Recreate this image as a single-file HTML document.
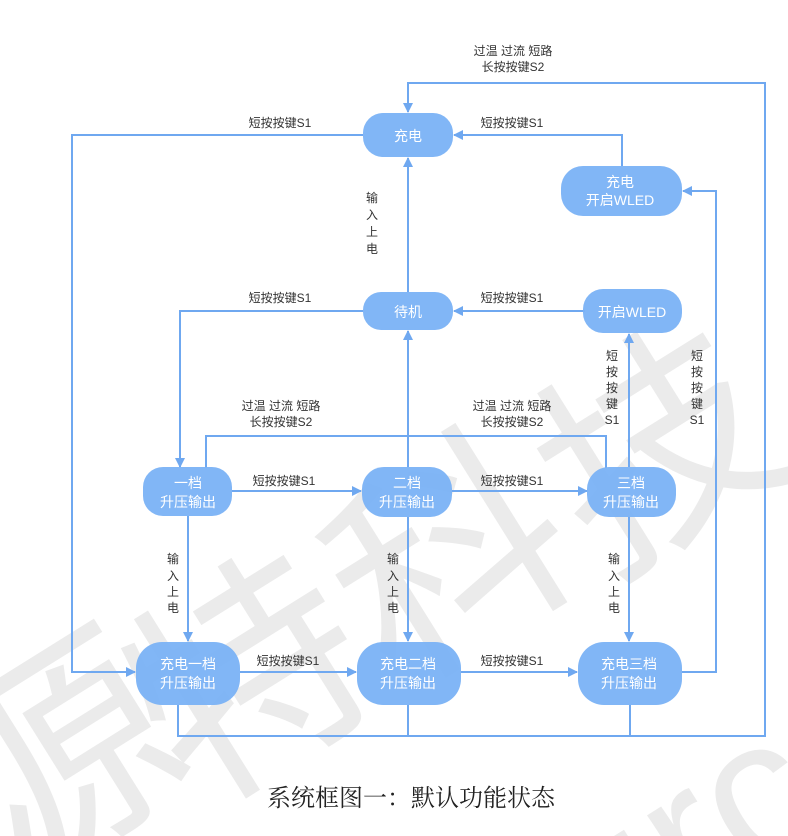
<!DOCTYPE html>
<html><head><meta charset="utf-8"><style>
html,body{margin:0;padding:0;background:#fff;}
body{width:788px;height:836px;overflow:hidden;position:relative;}
svg{position:absolute;left:0;top:0;overflow:hidden;}
.t{font-family:"Liberation Sans","Noto Sans CJK SC",sans-serif;font-size:12px;fill:#333;}
.n{font-family:"Liberation Sans","Noto Sans CJK SC",sans-serif;font-size:14px;fill:#fff;}
.wm{font-family:"Noto Sans CJK SC",sans-serif;fill:#ebebeb;}
</style></head><body>
<svg width="788" height="836" viewBox="0 0 788 836">
<defs>
<marker id="a" markerWidth="10" markerHeight="10" refX="9" refY="5" orient="auto" markerUnits="userSpaceOnUse"><path d="M0,0 L10,5 L0,10 Z" fill="#6fa8f0"/></marker>
</defs>
<g class="wm" font-size="230" text-anchor="middle">
<text x="60" y="840" transform="rotate(-32 60 760)">源</text>
<text x="250" y="760" transform="rotate(-32 250 680)">特</text>
<text x="450" y="640" transform="rotate(-32 450 560)">科</text>
<text x="660" y="530" transform="rotate(-32 660 450)">技</text>
<text x="720" y="880" font-family="Liberation Sans" font-size="200" transform="rotate(-32 720 800)">urce</text>
</g>
<g stroke="#6fa8f0" stroke-width="2" fill="none">
<polyline points="178,705 178,736 765,736 765,83 408,83 408,112" marker-end="url(#a)"/>
<line x1="408" y1="705" x2="408" y2="736"/>
<line x1="630" y1="705" x2="630" y2="736"/>
<polyline points="363,135 72,135 72,672 135,672" marker-end="url(#a)"/>
<polyline points="622,166 622,135 454,135" marker-end="url(#a)"/>
<line x1="408" y1="292" x2="408" y2="158" marker-end="url(#a)"/>
<line x1="585" y1="311" x2="454" y2="311" marker-end="url(#a)"/>
<polyline points="363,311 180,311 180,467" marker-end="url(#a)"/>
<line x1="408" y1="467" x2="408" y2="331" marker-end="url(#a)"/>
<polyline points="206,468 206,436 606,436 606,468"/>
<line x1="629" y1="467" x2="629" y2="334" marker-end="url(#a)"/>
<polyline points="682,672 716,672 716,191 683,191" marker-end="url(#a)"/>
<line x1="232" y1="491" x2="361" y2="491" marker-end="url(#a)"/>
<line x1="452" y1="491" x2="587" y2="491" marker-end="url(#a)"/>
<line x1="240" y1="672" x2="356" y2="672" marker-end="url(#a)"/>
<line x1="461" y1="672" x2="577" y2="672" marker-end="url(#a)"/>
<line x1="188" y1="516" x2="188" y2="641" marker-end="url(#a)"/>
<line x1="408" y1="517" x2="408" y2="641" marker-end="url(#a)"/>
<line x1="629" y1="517" x2="629" y2="641" marker-end="url(#a)"/>
</g>
<g fill="#7ab2f6" fill-opacity="0.95">
<rect x="363" y="113" width="90" height="44" rx="20"/>
<rect x="561" y="166" width="121" height="50" rx="22"/>
<rect x="363" y="292" width="90" height="38" rx="18"/>
<rect x="583" y="289" width="99" height="44" rx="20"/>
<rect x="143" y="467" width="89" height="49" rx="20"/>
<rect x="362" y="467" width="90" height="50" rx="22"/>
<rect x="587" y="467" width="89" height="50" rx="22"/>
<rect x="136" y="642" width="104" height="63" rx="26"/>
<rect x="357" y="642" width="104" height="63" rx="26"/>
<rect x="578" y="642" width="104" height="63" rx="26"/>
</g>
<g class="n" text-anchor="middle">
<text x="408" y="141">充电</text>
<text x="620" y="187">充电</text><text x="620" y="205">开启WLED</text>
<text x="408" y="317">待机</text>
<text x="632" y="317">开启WLED</text>
<text x="188" y="488">一档</text><text x="188" y="507">升压输出</text>
<text x="407" y="488">二档</text><text x="407" y="507">升压输出</text>
<text x="631" y="488">三档</text><text x="631" y="507">升压输出</text>
<text x="188" y="669">充电一档</text><text x="188" y="688">升压输出</text>
<text x="408" y="669">充电二档</text><text x="408" y="688">升压输出</text>
<text x="629" y="669">充电三档</text><text x="629" y="688">升压输出</text>
</g>
<g class="t" text-anchor="middle">
<text x="513" y="55">过温 过流 短路</text><text x="513" y="71">长按按键S2</text>
<text x="280" y="127">短按按键S1</text>
<text x="512" y="127">短按按键S1</text>
<text x="280" y="302">短按按键S1</text>
<text x="512" y="302">短按按键S1</text>
<text x="281" y="410">过温 过流 短路</text><text x="281" y="426">长按按键S2</text>
<text x="512" y="410">过温 过流 短路</text><text x="512" y="426">长按按键S2</text>
<text x="284" y="485">短按按键S1</text>
<text x="512" y="485">短按按键S1</text>
<text x="288" y="665">短按按键S1</text>
<text x="512" y="665">短按按键S1</text>
<text x="372" y="202">输</text><text x="372" y="219">入</text><text x="372" y="236">上</text><text x="372" y="253">电</text>
<text x="173" y="563">输</text><text x="173" y="580">入</text><text x="173" y="596">上</text><text x="173" y="612">电</text>
<text x="393" y="563">输</text><text x="393" y="580">入</text><text x="393" y="596">上</text><text x="393" y="612">电</text>
<text x="614" y="563">输</text><text x="614" y="580">入</text><text x="614" y="596">上</text><text x="614" y="612">电</text>
<text x="612" y="360">短</text><text x="612" y="376">按</text><text x="612" y="392">按</text><text x="612" y="408">键</text><text x="612" y="424">S1</text>
<text x="697" y="360">短</text><text x="697" y="376">按</text><text x="697" y="392">按</text><text x="697" y="408">键</text><text x="697" y="424">S1</text>
</g>
<text x="411" y="806" text-anchor="middle" font-family="Liberation Serif,'Noto Serif CJK SC',serif" font-size="24" fill="#222">系统框图一：默认功能状态</text>
</svg>
</body></html>
